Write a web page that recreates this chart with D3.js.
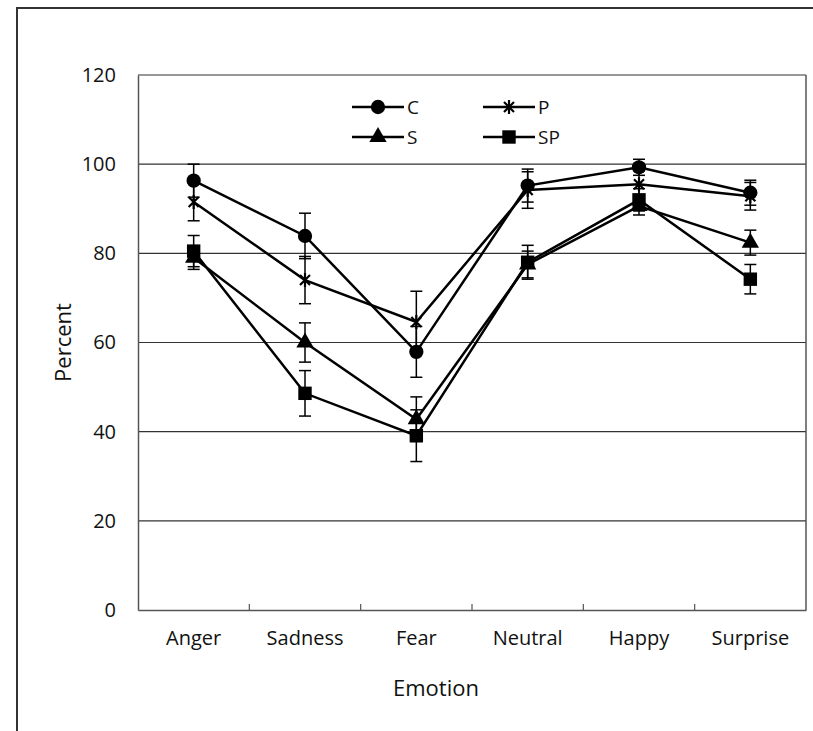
<!DOCTYPE html>
<html>
<head>
<meta charset="utf-8">
<script src="https://cdn.jsdelivr.net/npm/d3@7"></script>
<style>
  body { margin: 0; background: #fff; }
  text { font-family: "Open Sans", sans-serif; fill: #111; }
</style>
</head>
<body>
<div id="chart-container"></div>
<script>
/* CONSTANTS AND GLOBALS */
const width = 813,
  height = 731,
  margin = { top: 75, bottom: 121, left: 138, right: 7 };

// data
const categories = ["Anger", "Sadness", "Fear", "Neutral", "Happy", "Surprise"];
const cValues = [96.3, 83.9, 57.9, 95.2, 99.3, 93.6];
const cErrors = [3.7, 5.1, 5.7, 3.7, 1.8, 2.8];
const pValues = [91.5, 74.0, 64.6, 94.2, 95.5, 92.8];
const pErrors = [4.2, 5.3, 6.9, 4.1, 3.0, 3.1];
const sValues = [79.0, 60.0, 42.8, 77.5, 90.6, 82.4];
const sErrors = [2.6, 4.4, 5.0, 3.0, 2.0, 2.8];
const spValues = [80.5, 48.6, 39.1, 78.0, 92.0, 74.2];
const spErrors = [3.5, 5.1, 5.8, 3.8, 2.5, 3.3];
const yTicks = [0, 20, 40, 60, 80, 100, 120];

const seriesNames = ["C", "P", "S", "SP"];
const series = [
  { name: "C", values: cValues, errors: cErrors, marker: "circle" },
  { name: "P", values: pValues, errors: pErrors, marker: "star" },
  { name: "S", values: sValues, errors: sErrors, marker: "triangle" },
  { name: "SP", values: spValues, errors: spErrors, marker: "square" }
];

const svg = d3.select("#chart-container")
  .append("svg")
  .attr("width", width)
  .attr("height", height);

// outer chart frame (runs off the right and bottom)
svg.append("rect")
  .attr("x", 17).attr("y", 8)
  .attr("width", 830).attr("height", 760)
  .attr("fill", "none")
  .attr("stroke", "#333")
  .attr("stroke-width", 2);

// + SCALES
const xScale = d3.scaleBand()
  .domain(categories)
  .range([margin.left, width - margin.right]);

const yScale = d3.scaleLinear()
  .domain([0, 120])
  .range([height - margin.bottom, margin.top]);

const x = c => xScale(c) + xScale.bandwidth() / 2;

// gridlines
svg.append("g")
  .selectAll("line")
  .data(yTicks.filter(d => d > 0))
  .join("line")
  .attr("x1", margin.left).attr("x2", width - margin.right)
  .attr("y1", d => yScale(d)).attr("y2", d => yScale(d))
  .attr("stroke", "#333")
  .attr("stroke-width", 1.2);

// plot area border
svg.append("line")
  .attr("x1", width - margin.right).attr("x2", width - margin.right)
  .attr("y1", margin.top).attr("y2", yScale(0))
  .attr("stroke", "#555").attr("stroke-width", 1.5);

// + AXES
const yAxis = d3.axisLeft(yScale)
  .tickValues(yTicks)
  .tickSize(0)
  .tickPadding(22);

svg.append("g")
  .attr("class", "yAxis")
  .attr("transform", `translate(${margin.left}, 0)`)
  .call(yAxis)
  .call(g => g.select(".domain").attr("stroke", "#555").attr("stroke-width", 1.5))
  .call(g => g.selectAll("text").attr("font-size", 20).attr("font-family", "Open Sans").attr("fill", "#111"));

const xAxis = d3.axisBottom(xScale).tickSize(0).tickPadding(21);

svg.append("g")
  .attr("class", "xAxis")
  .attr("transform", `translate(0, ${yScale(0)})`)
  .call(xAxis)
  .call(g => g.select(".domain").attr("stroke", "#555").attr("stroke-width", 1.5))
  .call(g => g.selectAll("text").attr("font-size", 20).attr("font-family", "Open Sans").attr("fill", "#111"));

// category boundary tick marks (pointing up)
svg.append("g")
  .selectAll("line")
  .data(categories.slice(1))
  .join("line")
  .attr("x1", d => xScale(d)).attr("x2", d => xScale(d))
  .attr("y1", yScale(0)).attr("y2", yScale(0) - 6)
  .attr("stroke", "#555").attr("stroke-width", 1.2);

// axis titles
svg.append("text")
  .attr("x", 436)
  .attr("y", 696)
  .attr("text-anchor", "middle")
  .attr("font-size", 22)
  .text("Emotion");

svg.append("text")
  .attr("transform", `translate(71, ${yScale(60)}) rotate(-90)`)
  .attr("text-anchor", "middle")
  .attr("font-size", 22)
  .text("Percent");

// + MARKERS
function markerPath(type) {
  if (type === "circle") return d3.symbol(d3.symbolCircle, 160)();
  if (type === "square") return d3.symbol(d3.symbolSquare, 180)();
  if (type === "triangle") return d3.symbol(d3.symbolTriangle, 130)();
  return "M-5,-5L5,5M-5,5L5,-5M0,-7L0,7";
}

function drawMarker(g, type) {
  g.append("path")
    .attr("d", markerPath(type))
    .attr("fill", type === "star" ? "none" : "#000")
    .attr("stroke", "#000")
    .attr("stroke-width", type === "star" ? 2.2 : 0);
}

const lineGen = d3.line()
  .x((d, i) => x(categories[i]))
  .y(d => yScale(d));

// error bars
series.forEach(s => {
  const eb = svg.append("g").attr("class", "errorbars");
  s.values.forEach((v, i) => {
    const cx = x(categories[i]);
    const lo = yScale(v - s.errors[i]), hi = yScale(v + s.errors[i]);
    eb.append("line").attr("x1", cx).attr("x2", cx).attr("y1", lo).attr("y2", hi);
    eb.append("line").attr("x1", cx - 6).attr("x2", cx + 6).attr("y1", lo).attr("y2", lo);
    eb.append("line").attr("x1", cx - 6).attr("x2", cx + 6).attr("y1", hi).attr("y2", hi);
  });
  eb.selectAll("line").attr("stroke", "#000").attr("stroke-width", 1.5);
});

// lines
svg.selectAll(".line")
  .data(series)
  .join("path")
  .attr("class", "line")
  .attr("fill", "none")
  .attr("stroke", "#000")
  .attr("stroke-width", 2.5)
  .attr("d", d => lineGen(d.values));

// points
series.forEach(s => {
  s.values.forEach((v, i) => {
    const g = svg.append("g")
      .attr("transform", `translate(${x(categories[i])}, ${yScale(v)})`);
    drawMarker(g, s.marker);
  });
});

// + LEGEND
const legendPos = [[352, 107], [483, 107], [352, 137], [483, 137]];
series.forEach((s, i) => {
  const [lx, ly] = legendPos[i];
  const g = svg.append("g").attr("transform", `translate(${lx}, ${ly})`);
  g.append("line").attr("x1", 0).attr("x2", 52).attr("y1", 0).attr("y2", 0)
    .attr("stroke", "#000").attr("stroke-width", 2.5);
  const m = g.append("g").attr("transform", "translate(26, 0)");
  drawMarker(m, s.marker);
  g.append("text")
    .attr("x", 55).attr("y", 0)
    .attr("dy", "0.35em")
    .attr("font-size", 19)
    .text(seriesNames[i]);
});
</script>
</body>
</html>
